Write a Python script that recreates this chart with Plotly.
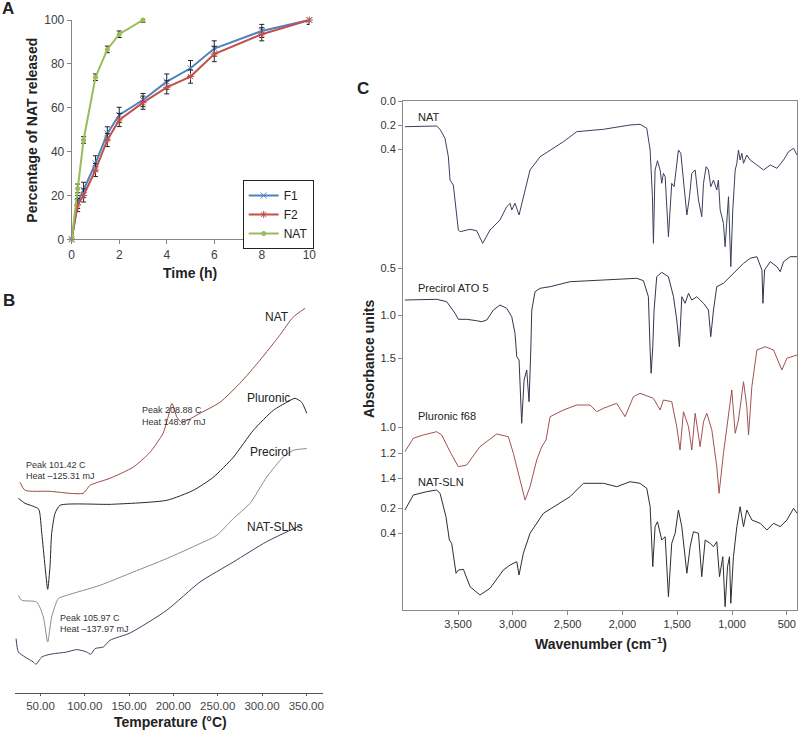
import plotly.graph_objects as go

W, H = 798, 732
FONT = "Liberation Sans, Arial, sans-serif"

# ---------------- Panel A: release profiles ----------------
time_h = [0, 0.25, 0.5, 1, 1.5, 2, 3, 4, 5, 6, 8, 10]
f1_release = [0, 17, 22.5, 34.6, 48.3, 56.7, 63.5, 71.9, 78, 87, 95, 100]
f1_err = [0, 3, 3.5, 3.5, 3, 3.5, 3, 3.5, 3.5, 3.5, 3, 2]
f2_release = [0, 15.6, 20, 31.6, 45.3, 54.4, 62.3, 69.3, 74.2, 84.5, 93.5, 100]
f2_err = [0, 3, 3, 3, 3, 3, 3, 3, 3, 3.5, 3, 2]
nat_time_h = [0, 0.25, 0.5, 1, 1.5, 2, 3]
nat_release = [0, 23.2, 45.3, 73.9, 86.6, 93.5, 100]
nat_err = [0, 2, 1.5, 1.5, 1.5, 1.5, 1]

# ---------------- Panel B: DSC thermograms (heat flow, a.u.) ----------------
dsc_nat_T = [26.9, 32.5, 60, 98, 105.9, 128.4, 154.4, 173.6, 188.3, 193.9, 198.4, 204, 209.6, 230, 252.5, 275, 297.6, 320, 335, 348.6]
dsc_nat_q = [211, 203, 202, 200, 208, 215, 226, 241, 260, 276, 290, 276, 271, 280, 291, 310, 333, 358, 376, 385]
dsc_plu_T = [25, 32.5, 41.9, 48, 51.4, 55.1, 58.1, 60.7, 62.6, 66.4, 72, 130, 192.4, 222.5, 245, 267.6, 290.2, 312.8, 327.9, 337.3, 344.8, 350.5]
dsc_plu_q = [195, 190, 187, 184, 160, 127, 104, 127, 160, 180, 188, 189, 193, 203, 216, 236, 263, 283, 291, 295, 291, 280]
dsc_pre_T = [25, 28.8, 45.7, 53.2, 58.1, 62.6, 70.1, 79.6, 117.2, 154.7, 192.4, 230, 248.9, 267.6, 286.5, 305.3, 324, 335.3, 350.5]
dsc_pre_q = [98, 93, 91.3, 76.3, 51.3, 76.3, 94.7, 98, 108, 121.3, 134.7, 149.7, 158, 174.7, 190, 216.3, 236.3, 243, 244.7]
dsc_sln_T = [22.4, 25, 32.5, 41.9, 44.9, 51.4, 60.7, 79.6, 90.9, 102.1, 106.7, 111.5, 120.9, 128.4, 151, 192.4, 230, 267.6, 305.3, 344.8]
dsc_sln_q = [54.7, 41.3, 36.3, 31.3, 29, 36.3, 39, 41.3, 43.7, 41.3, 39, 44.7, 46.3, 53, 60.3, 83, 111.3, 131.3, 151.7, 168.3]
temp_ticks = [50, 100, 150, 200, 250, 300, 350]
temp_labels = ["50.00", "100.00", "150.00", "200.00", "250.00", "300.00", "350.00"]

# ---------------- Panel C: FTIR spectra (stacked offset, a.u.) ----------------
ir_nat_wn = [3984,3695,3664,3619,3588,3573,3543,3518,3497,3482,3390,3330,3275,3208,3117,3056,3025,3010,2980,2943,
             2904,2843,2751,2660,2538,2417,2173,1930,1839,1778,1747,1726,1717,1702,1680,1656,1641,1626,1610,1580,
             1550,1528,1510,1489,1467,1443,1412,1388,1367,1336,1306,1276,1260,1236,1215,1194,1169,1139,1124,1108,
             1078,1063,1047,1032,1011,993,971,956,941,926,910,895,865,834,773,712,651,590,530,484,438,407]
ir_nat_a = [25.7,25,28.3,37.3,55.7,79,84,105.7,129,130.7,128.3,129.7,142.3,129,119,105.7,102.3,109,102.3,114,
            95.7,69,55.7,49,40.7,30.7,28.3,24,23.3,27.3,49,95.7,142.3,69,59.7,69,82.3,72.3,75.7,135.7,
            82.3,85.7,69,49,52.3,82.3,114,95.7,72.3,69,99,115.7,82.3,65.7,69,85.7,79,89,79,109,
            122.3,145.7,119,95.7,165.7,109,69,62.3,49,59,52.3,62.3,54,59,64,69,64,67.3,59,50.7,47.3,54]
ir_pre_wn = [3984,3695,3603,3527,3497,3421,3330,3284,3238,3177,3117,3056,3010,2980,2964,2943,2919,2897,2873,2852,
             2836,2827,2797,2751,2660,2477,2173,1869,1808,1763,1747,1738,1723,1711,1687,1641,1580,1534,1504,1480,
             1458,1428,1397,1367,1321,1260,1215,1194,1169,1139,1078,1017,956,895,834,773,727,718,703,651,
             590,560,530,469,407]
ir_pre_a = [199,198.3,200.7,212.3,218.3,218.3,219.7,220.7,219,209,204,207.3,215.7,232.3,255.7,259,322.3,279,269,300.7,
            249,209,190.7,187.3,185.7,180.7,179,177.3,179.7,195.7,249,272.3,245.7,209,175.7,171.3,175.7,195.7,219,245.7,
            195.7,202.3,192.3,199,195.7,202.3,209,235.7,209,185.7,182.3,175.7,169,162.3,157.3,155.7,169,202.3,169,160.7,
            165.7,170.7,160.7,155.7,155.7]
ir_plu_wn = [3984,3908,3817,3695,3649,3573,3497,3421,3300,3147,3041,2995,2934,2888,2843,2782,2736,2697,2660,2538,
             2417,2295,2234,2173,2052,1976,1900,1839,1717,1656,1626,1550,1504,1474,1443,1397,1367,1336,1291,1260,
             1230,1184,1139,1118,1078,1032,1002,971,941,895,865,849,819,773,697,621,545,499,407]
ir_plu_a = [350.7,337.3,334,330.7,334,350.7,365.7,364,345.7,333,335.7,352.3,379,399,385.7,359,345.7,339,315.7,309,
            304,304,310.7,307.3,302.3,315.7,295.7,292.3,297.3,309,299,300.7,325.7,349,310.7,325.7,349,312.3,345.7,320.7,
            312.3,329,365.7,392.3,352.3,312.3,289,332.3,319,280.7,305.7,334,285.7,249,245.7,249,269,257.3,254]
ir_sln_wn = [3984,3908,3786,3695,3664,3610,3579,3558,3518,3497,3451,3390,3300,3208,3086,3025,2964,2943,2904,2843,
             2721,2599,2478,2356,2173,2052,1930,1839,1778,1747,1723,1702,1680,1641,1610,1580,1550,1519,1489,1458,
             1412,1382,1352,1306,1276,1245,1200,1169,1139,1114,1084,1063,1041,1023,1011,987,956,926,895,865,
             819,743,682,621,560,499,438,407]
ir_sln_a = [409,394,390.7,389,392.3,415.7,439,442.3,472.3,469,468.3,485.7,494,487.3,469,464,460.7,474,452.3,432.3,
            412.3,404,395.7,382.3,382.3,385.7,380.7,382.3,387.3,405.7,465.7,425.7,420.7,439,435.7,495.7,442.3,432.3,409,425.7,
            472.3,445.7,430.7,432.3,475.7,439,442.3,445.7,440.7,475.7,455.7,505.7,465.7,455.7,502.3,455.7,425.7,405.7,425.7,409,
            419,422.3,429,422.3,425.7,419,407.3,412.3]
wn_ticks = [3500, 3000, 2500, 2000, 1500, 1000, 500]
wn_labels = ["3,500", "3,000", "2,500", "2,000", "1,500", "1,000", "500"]
abs_tick_pos = [0, 24, 48, 167, 214, 257, 326, 352, 377, 407, 432]
abs_tick_labels = ["0.0", "0.2", "0.4", "0.5", "1.0", "1.5", "1.0", "1.2", "1.4", "0.2", "0.4"]
abs_minor_pos = [478, 503]


def px(x):
    return x / W


def py(y):
    return 1 - y / H


fig = go.Figure()

# Panel A traces
def err(arr):
    return dict(type="data", array=arr, color="#222222", thickness=1, width=2.5)

fig.add_trace(go.Scatter(x=time_h, y=f1_release, name="F1", mode="lines+markers",
                         line=dict(color="#4F81BD", width=2), marker=dict(symbol="x-thin-open", size=6, line=dict(width=1, color="#4F81BD")),
                         error_y=err(f1_err), cliponaxis=False, xaxis="x", yaxis="y"))
fig.add_trace(go.Scatter(x=time_h, y=f2_release, name="F2", mode="lines+markers",
                         line=dict(color="#C0504D", width=2), marker=dict(symbol="asterisk-open", size=6, line=dict(width=1, color="#C0504D")),
                         error_y=err(f2_err), cliponaxis=False, xaxis="x", yaxis="y"))
fig.add_trace(go.Scatter(x=nat_time_h, y=nat_release, name="NAT", mode="lines+markers",
                         line=dict(color="#9BBB59", width=2), marker=dict(symbol="circle", size=5, color="#9BBB59"),
                         error_y=err(nat_err), cliponaxis=False, xaxis="x", yaxis="y"))

# Panel B traces
for T, q, c in [(dsc_nat_T, dsc_nat_q, "#9a4c48"), (dsc_plu_T, dsc_plu_q, "#262626"),
                (dsc_pre_T, dsc_pre_q, "#8c8c8c"), (dsc_sln_T, dsc_sln_q, "#4a3c5c")]:
    fig.add_trace(go.Scatter(x=T, y=q, mode="lines", line=dict(color=c, width=1, shape="spline", smoothing=0.6),
                             showlegend=False, xaxis="x2", yaxis="y2", hoverinfo="skip"))

# Panel C traces
for wn, a, c in [(ir_nat_wn, ir_nat_a, "#3c3f5c"), (ir_pre_wn, ir_pre_a, "#33364a"),
                 (ir_plu_wn, ir_plu_a, "#a25252"), (ir_sln_wn, ir_sln_a, "#2e2e2e")]:
    fig.add_trace(go.Scatter(x=wn, y=a, mode="lines", line=dict(color=c, width=1),
                             showlegend=False, xaxis="x3", yaxis="y3", hoverinfo="skip"))

tickfont = dict(family=FONT, size=12, color="#404040")

fig.update_layout(
    width=W, height=H, margin=dict(l=0, r=0, t=0, b=0, pad=0, autoexpand=False),
    paper_bgcolor="white", plot_bgcolor="white",
    font=dict(family=FONT, color="#222"),
    xaxis=dict(domain=[px(71.7), px(309.3)], range=[0, 10], tickvals=[0, 2, 4, 6, 8, 10],
               showline=True, linecolor="#868686", ticks="outside", ticklen=4, tickcolor="#868686",
               showgrid=False, zeroline=False, tickfont=tickfont, anchor="y", automargin=False),
    yaxis=dict(domain=[py(239.3), py(20)], range=[0, 100], tickvals=[0, 20, 40, 60, 80, 100],
               showline=True, linecolor="#868686", ticks="outside", ticklen=4, tickcolor="#868686",
               showgrid=False, zeroline=False, tickfont=tickfont, anchor="x", automargin=False),
    xaxis2=dict(domain=[px(15), px(322.7)], range=[21.2, 368.5], tickvals=temp_ticks, ticktext=temp_labels,
                showline=True, linecolor="#555", ticks="outside", ticklen=2, tickcolor="#555",
                showgrid=False, zeroline=False, tickfont=dict(family=FONT, size=11.5, color="#444"), anchor="y2",
                automargin=False),
    yaxis2=dict(domain=[py(693.3), py(280)], range=[0, 413.3], visible=False, anchor="x2"),
    xaxis3=dict(domain=[px(403), px(797)], range=[4002, 407], tickvals=wn_ticks, ticktext=wn_labels,
                showline=True, mirror=True, linecolor="#8a8a8a", ticks="outside", ticklen=4, tickcolor="#8a8a8a",
                showgrid=False, zeroline=False, tickfont=dict(family=FONT, size=11, color="#333"), anchor="y3",
                automargin=False),
    yaxis3=dict(domain=[py(610), py(101)], range=[509, 0], tickvals=abs_tick_pos, ticktext=abs_tick_labels,
                showline=True, mirror=True, linecolor="#8a8a8a", ticks="outside", ticklen=4, tickcolor="#8a8a8a",
                showgrid=False, zeroline=False, tickfont=dict(family=FONT, size=11, color="#333"), anchor="x3",
                automargin=False),
    yaxis4=dict(domain=[py(610), py(101)], range=[509, 0], tickvals=abs_minor_pos, showticklabels=False,
                showline=False, ticks="outside", ticklen=4, tickcolor="#8a8a8a", overlaying="y3", side="left",
                showgrid=False, zeroline=False, anchor="x3", automargin=False),
    legend=dict(x=px(242.7), y=py(180), xanchor="left", yanchor="top", bordercolor="#222", borderwidth=1,
                bgcolor="white", font=dict(family=FONT, size=12, color="#222"), tracegroupgap=0, itemwidth=30),
)

ann = []

def text(x, y, s, size=12, bold=False, angle=0, xanchor="center", color="#222"):
    ann.append(dict(x=px(x), y=py(y), xref="paper", yref="paper", text=("<b>%s</b>" % s) if bold else s,
                    showarrow=False, font=dict(family=FONT, size=size, color=color), textangle=angle,
                    xanchor=xanchor, yanchor="middle", align="left"))

# panel letters
text(8, 9, "A", 17, True)
text(9, 300, "B", 17, True)
text(363, 89, "C", 17, True)
# axis titles
text(31.7, 130, "Percentage of NAT released", 14, True, angle=-90)
text(190, 273, "Time (h)", 14, True)
text(170, 722, "Temperature (°C)", 14, True)
text(601, 643, "Wavenumber (cm<sup>−1</sup>)", 14, True)
text(369, 359, "Absorbance units", 14, True, angle=-90)
# DSC labels
text(277, 317, "NAT", 12)
text(268, 398, "Pluronic", 12)
text(270, 452, "Precirol", 12)
text(275, 527, "NAT-SLNs", 12)
text(140, 410, "Peak 208.88 C", 9, xanchor="left", color="#333")
text(140, 421.7, "Heat 148.87 mJ", 9, xanchor="left", color="#333")
text(24, 465, "Peak 101.42 C", 9, xanchor="left", color="#333")
text(24, 475.7, "Heat –125.31 mJ", 9, xanchor="left", color="#333")
text(58.3, 618.3, "Peak 105.97 C", 9, xanchor="left", color="#333")
text(58.3, 629, "Heat –137.97 mJ", 9, xanchor="left", color="#333")
# FTIR labels
text(416, 116.7, "NAT", 11, xanchor="left")
text(416, 288.3, "Precirol ATO 5", 11, xanchor="left")
text(416, 416, "Pluronic f68", 11, xanchor="left")
text(416, 481.7, "NAT-SLN", 11, xanchor="left")

fig.update_layout(annotations=ann)
fig.write_html("out.html", config={"displayModeBar": False},
               post_script="document.body.style.margin='0';document.body.style.overflow='hidden';")
